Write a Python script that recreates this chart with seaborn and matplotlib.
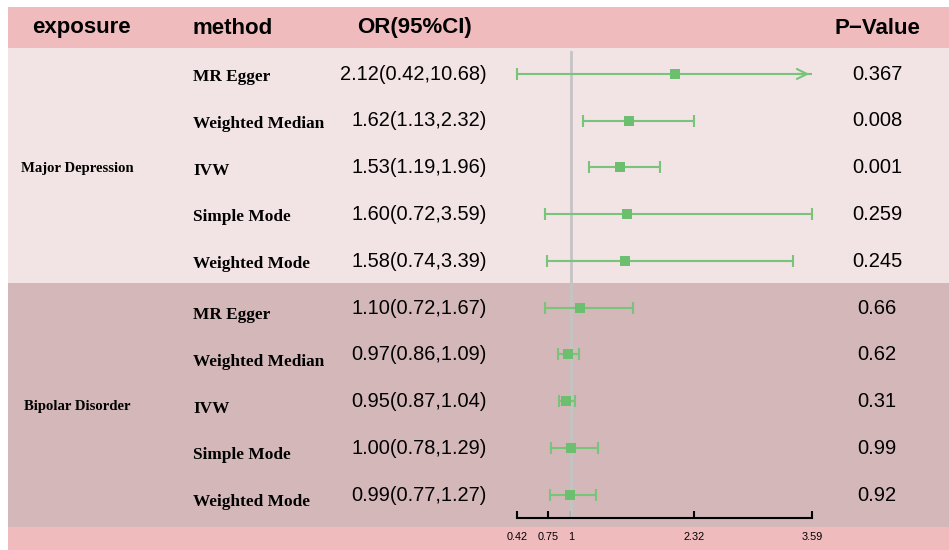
import numpy as np
import pandas as pd
import matplotlib
matplotlib.use("Agg")
import matplotlib.pyplot as plt
import seaborn as sns

# ---------------- data ----------------
exposures = ["Major Depression", "Bipolar Disorder"]
methods = ["MR Egger", "Weighted Median", "IVW", "Simple Mode", "Weighted Mode"]
or_major = [2.12, 1.62, 1.53, 1.60, 1.58]
lo_major = [0.42, 1.13, 1.19, 0.72, 0.74]
hi_major = [10.68, 2.32, 1.96, 3.59, 3.39]
p_major = ["0.367", "0.008", "0.001", "0.259", "0.245"]
or_bipolar = [1.10, 0.97, 0.95, 1.00, 0.99]
lo_bipolar = [0.72, 0.86, 0.87, 0.78, 0.77]
hi_bipolar = [1.67, 1.09, 1.04, 1.29, 1.27]
p_bipolar = ["0.66", "0.62", "0.31", "0.99", "0.92"]
tick_values = [0.42, 0.75, 1, 2.32, 3.59]
tick_labels = ["0.42", "0.75", "1", "2.32", "3.59"]
headers = ["exposure", "method", "OR(95%CI)", "P\u2212Value"]

df = pd.DataFrame({
    "exposure": [exposures[0]] * 5 + [exposures[1]] * 5,
    "method": methods * 2,
    "or": or_major + or_bipolar,
    "lo": lo_major + lo_bipolar,
    "hi": hi_major + hi_bipolar,
    "p": p_major + p_bipolar,
})
df["row"] = np.arange(len(df))
df["label"] = [f"{o:.2f}({l:.2f},{h:.2f})" for o, l, h in zip(df["or"], df["lo"], df["hi"])]

# ---------------- style ----------------
sns.set_theme(style="white")
SANS = ["Liberation Sans", "DejaVu Sans"]
SERIF = ["Liberation Serif", "DejaVu Serif"]
plt.rcParams["font.family"] = SANS
plt.rcParams["text.color"] = "black"
plt.rcParams["xtick.color"] = "black"
plt.rcParams["xtick.labelcolor"] = "black"

GREEN_LINE = "#78C47B"
GREEN_PT = "#6CBF6F"
C_HEAD = "#F0BBBD"
C_BAND1 = "#F2E3E4"
C_BAND2 = "#D4B7B8"

W, H = 949, 550
fig = plt.figure(figsize=(W / 100, H / 100), dpi=100)
fig.patch.set_facecolor("white")

# background / table axes in pixel layout units
bg = fig.add_axes([0, 0, 1, 1])
bg.set_xlim(0, W)
bg.set_ylim(H, 0)
bg.axis("off")

X0 = 8
bg.fill_between([X0, W], 7, 48, color=C_HEAD, lw=0)
bg.fill_between([X0, W], 48, 283, color=C_BAND1, lw=0)
bg.fill_between([X0, W], 283, 527, color=C_BAND2, lw=0)
bg.fill_between([X0, W], 527, H, color=C_HEAD, lw=0)

# headers
hy = 28
bg.text(81, hy, headers[0], ha="center", va="center", fontsize=16, fontweight="bold", family=SANS)
bg.text(193, hy, headers[1], ha="left", va="center", fontsize=16, fontweight="bold", family=SANS)
bg.text(415, hy, headers[2], ha="center", va="center", fontsize=16, fontweight="bold", family=SANS)
bg.text(877, hy, headers[3], ha="center", va="center", fontsize=16, fontweight="bold", family=SANS)

# row layout
ROW0, ROWSTEP = 74.0, 46.8
for i, r in df.iterrows():
    yc = ROW0 + ROWSTEP * r["row"]
    off = 3 if r["row"] < 5 else 7
    bg.text(193, yc + off, r["method"], ha="left", va="center", fontsize=12.4,
            fontweight="bold", family=SERIF)
    bg.text(487, yc, r["label"], ha="right", va="center", fontsize=14.4, family=SANS)
    bg.text(877, yc, r["p"], ha="center", va="center", fontsize=14.5, family=SANS)

bg.text(77, ROW0 + ROWSTEP * 2 + 1, exposures[0], ha="center", va="center", fontsize=10.6,
        fontweight="bold", family=SERIF)
bg.text(77, ROW0 + ROWSTEP * 7 + 5, exposures[1], ha="center", va="center", fontsize=10.6,
        fontweight="bold", family=SERIF)

# ---------------- forest axes ----------------
AX_L, AX_R, AX_T, AX_B = 517, 812, ROW0 - ROWSTEP / 2, 518
ax = fig.add_axes([AX_L / W, (H - AX_B) / H, (AX_R - AX_L) / W, (AX_B - AX_T) / H])
ax.set_facecolor("none")
xmin, xmax = tick_values[0], tick_values[-1]
ax.set_xlim(xmin, xmax)
ax.set_ylim(len(df) - 0.5, -0.5)

ax.axvline(1, color="#C4C4C4", lw=2, zorder=1)

hi_clip = np.minimum(df["hi"], xmax)
ax.hlines(df["row"], df["lo"], hi_clip, color=GREEN_LINE, lw=1.5, zorder=2, clip_on=False)
ax.plot(df["lo"], df["row"], ls="none", marker="|", ms=8, mew=1.5, color=GREEN_LINE, clip_on=False, zorder=2)
inside = df["hi"] <= xmax
ax.plot(df.loc[inside, "hi"], df.loc[inside, "row"], ls="none", marker="|", ms=8, mew=1.5,
        color=GREEN_LINE, clip_on=False, zorder=2)
for _, r in df.loc[~inside].iterrows():
    ax.annotate("", xy=(xmax, r["row"]), xytext=(xmax - 0.2, r["row"]),
                arrowprops=dict(arrowstyle="->", color=GREEN_LINE, lw=1.5, mutation_scale=18),
                annotation_clip=False)

sns.scatterplot(data=df, x="or", y="row", marker="s", s=42, color=GREEN_PT,
                edgecolor=GREEN_PT, linewidth=0, ax=ax, zorder=3, legend=False)

ax.set_xlabel("")
ax.set_ylabel("")
ax.set_yticks([])
ax.set_xticks(tick_values)
ax.set_xticklabels(tick_labels)
ax.tick_params(axis="x", direction="in", length=5, width=1.5, color="black",
               labelsize=7.8, pad=10, bottom=True, labelcolor="black")
for s in ["top", "left", "right"]:
    ax.spines[s].set_visible(False)
ax.spines["bottom"].set_color("black")
ax.spines["bottom"].set_linewidth(1.5)

fig.savefig("out.png", dpi=100)
